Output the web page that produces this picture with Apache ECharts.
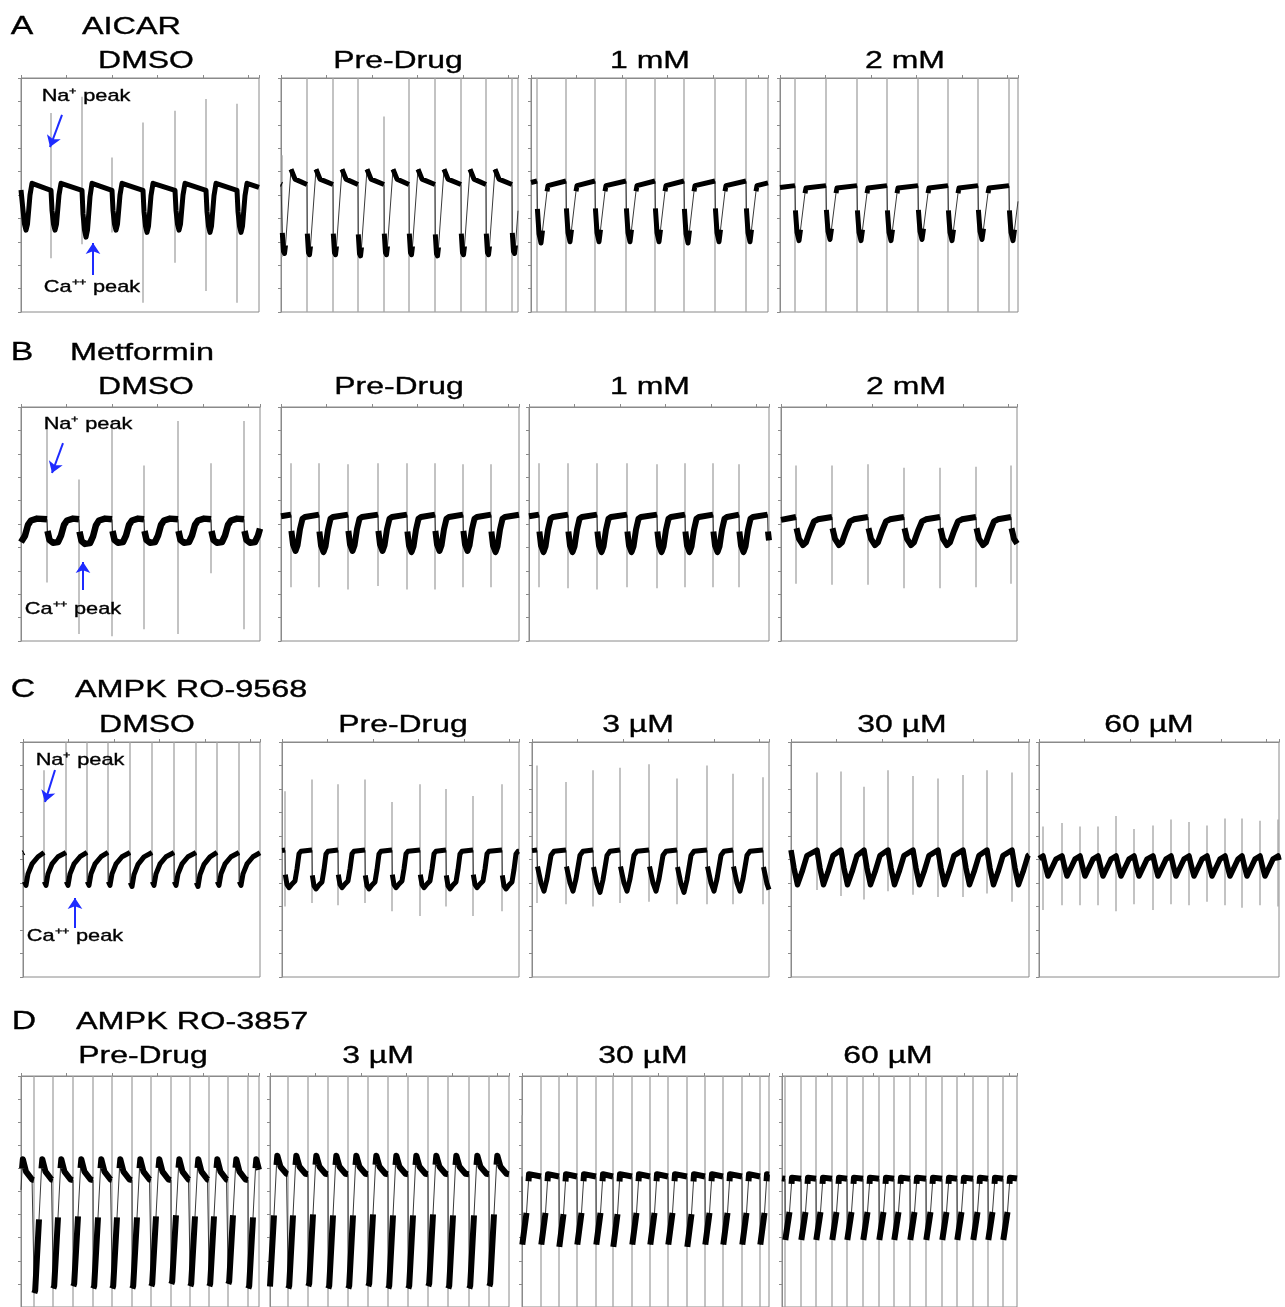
<!DOCTYPE html>
<html><head><meta charset="utf-8">
<script src="https://cdn.jsdelivr.net/npm/echarts/dist/echarts.min.js"></script>
<style>html,body{margin:0;padding:0;background:#fff}#c{width:1285px;height:1307px}</style>
</head><body><div id="c"></div>
<script>
// ================= DATA =================
// x = time in axis units, y = signal (0..10 axis divisions)
const rowLetters = ['A', 'B', 'C', 'D'];
const rowNames = ['AICAR', 'Metformin', 'AMPK RO-9568', 'AMPK RO-3857'];
const aTitles = ['DMSO', 'Pre-Drug', '1 mM', '2 mM'];
const bTitles = ['DMSO', 'Pre-Drug', '1 mM', '2 mM'];
const cTitles = ['DMSO', 'Pre-Drug', '3 \u00b5M', '30 \u00b5M', '60 \u00b5M'];
const dTitles = ['Pre-Drug', '3 \u00b5M', '30 \u00b5M', '60 \u00b5M'];
const naLabel = 'Na\u207A peak';
const caLabel = 'Ca\u207A\u207A peak';

// ---- A: AICAR ----
const aDmsoBeat = [1, 30, 61, 91, 122, 154, 185, 216];
const aDmsoNaHi = [null, 8.5, 9.2, 6.6, 8.1, 8.6, 9.1, 8.9];
const aDmsoNaLo = [null, 2.3, 2.9, 3.4, 0.4, 2.1, 0.9, 0.4];
const aDmsoCa = [3.5, 3.5, 3.2, 3.5, 3.4, 3.5, 3.4, 3.4];
const aDmsoLevel = [5.5, 5.2];

const aPreBeat = [1, 26, 52, 77, 103, 128, 154, 180, 205, 231];
const aPreNaHi = [6.7, 10, 10, 10, 8.35, 10, 10, 10, 10, 10];
const aPreNaLo = [2.35, 0, 0, 0, 0, 0, 0, 0, 0, 0];
const aPreCa = [2.5, 2.45, 2.45, 2.4, 2.45, 2.45, 2.4, 2.45, 2.45, 2.5];
const aPreLevel = [6.1, 5.45];

const a1Beat = [6, 35, 64, 95, 124, 153, 184, 215];
const a1NaHi = [10, 10, 10, 10, 10, 10, 10, 10];
const a1NaLo = [0, 0, 0, 0, 0, 0, 0, 0];
const a1Ca = [2.95, 3.0, 3.0, 3.0, 3.0, 2.95, 3.0, 3.0];
const a1Level = [5.4, 5.6];

const a2Beat = [15, 46, 77, 107, 138, 168, 198, 229];
const a2NaHi = [10, 10, 10, 10, 10, 10, 10, 10];
const a2NaLo = [0, 0, 0, 0, 0, 0, 0, 0];
const a2Ca = [3.05, 3.1, 3.05, 3.05, 3.1, 3.05, 3.1, 3.05];
const a2Level = [5.3, 5.4];

// ---- B: Metformin ----
const bDmsoBeat = [-10, 26, 58, 91, 123, 157, 190, 223];
const bDmsoNaHi = [null, 9.4, 6.9, 9.4, 7.5, 9.4, 7.6, 9.4];
const bDmsoNaLo = [null, 2.5, 0.3, 0.2, 0.5, 0.3, 2.9, 0.5];
const bDmsoCa = [4.2, 4.2, 4.15, 4.2, 4.2, 4.2, 4.2, 4.2];
const bDmsoLevel = [5.15, 5.2];

const bPreBeat = [10, 38, 67, 97, 126, 154, 182, 210];
const bPreNaHi = [7.6, 7.6, 7.55, 7.6, 7.6, 7.6, 7.55, 7.55];
const bPreNaLo = [2.3, 2.3, 2.2, 2.35, 2.2, 2.2, 2.3, 2.3];
const bPreCa = [3.85, 3.8, 3.85, 3.85, 3.8, 3.85, 3.85, 3.8];
const bPreLevel = [5.3, 5.4];

const b1Beat = [10, 39, 68, 98, 128, 156, 184, 210];
const b1NaHi = [7.6, 7.6, 7.6, 7.6, 7.55, 7.6, 7.6, 7.55];
const b1NaLo = [2.3, 2.25, 2.2, 2.3, 2.25, 2.3, 2.3, 2.3];
const b1Ca = [3.8, 3.8, 3.8, 3.8, 3.8, 3.8, 3.8, 3.8];
const b1Level = [5.3, 5.4];

const b2Beat = [15, 51, 87, 123, 159, 195, 230];
const b2NaHi = [7.5, 7.5, 7.55, 7.4, 7.4, 7.45, 7.5];
const b2NaLo = [2.45, 2.4, 2.4, 2.25, 2.25, 2.3, 2.45];
const b2Ca = [4.1, 4.1, 4.1, 4.1, 4.1, 4.1, 4.1];
const b2Level = [5.2, 5.3];

// ---- C: AMPK RO-9568 ----
const cDmsoBeat = [1, 21, 43, 64, 85, 107, 129, 151, 173, 194, 216];
const cDmsoNaHi = [null, 8.8, 10, 10, 10, 10, 10, 10, 10, 10, 10];
const cDmsoNaLo = [null, 4.0, 3.95, 4.0, 4.0, 3.95, 4.0, 4.0, 3.95, 4.0, 4.0];
const cDmsoCa = [3.9, 3.9, 3.9, 3.9, 3.9, 3.85, 3.9, 3.9, 3.85, 3.9, 3.9];
const cDmsoLevel = [5.3, 5.3];

const cPreBeat = [3, 30, 56, 83, 110, 138, 164, 191, 220];
const cPreNaHi = [7.9, 8.4, 8.2, 8.4, 7.45, 8.2, 8.0, 7.7, 8.2];
const cPreNaLo = [3.0, 3.15, 3.05, 3.15, 2.8, 2.6, 3.0, 2.6, 2.8];
const cPreCa = [3.8, 3.75, 3.8, 3.75, 3.8, 3.8, 3.75, 3.8, 3.75];
const cPreLevel = [5.35, 5.4];

const c3Beat = [5, 34, 61, 88, 117, 145, 175, 201, 231];
const c3NaHi = [9.0, 8.3, 8.8, 8.9, 9.05, 8.45, 9.0, 8.65, 8.5];
const c3NaLo = [3.15, 3.1, 3.0, 3.15, 3.2, 3.1, 3.1, 3.1, 3.1];
const c3Ca = [3.65, 3.65, 3.6, 3.65, 3.65, 3.6, 3.65, 3.65, 3.6];
const c3Level = [5.35, 5.4];

const c30Beat = [0, 26, 50, 73, 97, 122, 147, 172, 196, 221];
const c30NaHi = [null, 8.7, 8.75, 8.1, 8.8, 8.55, 8.45, 8.6, 8.8, 8.7];
const c30NaLo = [null, 3.7, 3.45, 3.3, 3.65, 3.5, 3.4, 3.4, 3.55, 3.2];
const c30Ca = [3.85, 3.85, 3.85, 3.85, 3.85, 3.85, 3.85, 3.85, 3.85, 3.85];
const c30Level = [5.4, 5.4];

const c60Beat = [4, 23, 41, 59, 77, 95, 114, 132, 150, 168, 186, 203, 221, 239];
const c60NaHi = [6.4, 6.55, 6.4, 6.4, 6.85, 6.3, 6.45, 6.7, 6.6, 6.45, 6.75, 6.75, 6.65, 6.7];
const c60NaLo = [2.85, 3.05, 3.05, 3.05, 2.8, 3.1, 2.85, 3.1, 3.05, 3.2, 3.05, 2.95, 3.05, 3.0];
const c60Ca = [4.25, 4.25, 4.25, 4.25, 4.25, 4.25, 4.25, 4.25, 4.25, 4.25, 4.25, 4.25, 4.25, 4.25];
const c60Level = [5.15, 5.15];

// ---- D: AMPK RO-3857 ----
const dPreBeat = [13, 32, 52, 72, 91, 111, 130, 150, 169, 188, 207, 227];
const dPreNaHi = [10, 10, 10, 10, 10, 10, 10, 10, 10, 10, 10, 10];
const dPreNaLo = [0, 0, 0, 0, 0, 0, 0, 0, 0, 0, 0, 0];
const dPreCa = [0.6, 0.8, 0.9, 0.8, 0.8, 0.8, 0.9, 1.0, 0.9, 0.9, 1.0, 0.8];
const dPreLevel = [6.4, 5.5];

const d3Beat = [-1, 18, 38, 58, 78, 98, 118, 138, 158, 178, 199, 219];
const d3NaHi = [null, 10, 10, 10, 10, 10, 10, 10, 10, 10, 10, 10];
const d3NaLo = [null, 0, 0, 0, 0, 0, 0, 0, 0, 0, 0, 0];
const d3Ca = [0.8, 0.8, 0.9, 0.8, 0.8, 0.9, 0.8, 0.8, 0.9, 0.8, 0.8, 0.9];
const d3Level = [6.55, 5.75];

const d30Beat = [0, 19, 37, 55, 74, 91, 110, 128, 146, 165, 183, 201, 220, 238];
const d30NaHi = [8.3, 10, 10, 10, 10, 10, 10, 10, 10, 10, 10, 10, 10, 10];
const d30NaLo = [3.0, 0, 0, 0, 0, 0, 0, 0, 0, 0, 0, 0, 0, 0];
const d30Ca = [2.7, 2.7, 2.6, 2.7, 2.7, 2.6, 2.7, 2.7, 2.7, 2.6, 2.7, 2.7, 2.7, 2.7];
const d30Level = [5.75, 5.65];

const d60Beat = [3, 19, 34, 50, 65, 81, 97, 112, 128, 144, 160, 175, 191, 206, 221];
const d60NaHi = [10, 10, 10, 10, 10, 10, 10, 10, 10, 10, 10, 10, 10, 10, 10];
const d60NaLo = [0, 0, 0, 0, 0, 0, 0, 0, 0, 0, 0, 0, 0, 0, 0];
const d60Ca = [2.9, 2.9, 2.9, 2.9, 2.9, 2.9, 2.9, 2.9, 2.9, 2.9, 2.9, 2.9, 2.9, 2.9, 2.9];
const d60Level = [5.6, 5.55];

// ================= WAVEFORM SHAPES (style: per-beat template) =================
// [dt, mode, f, thickSegment]; mode CE: C+f*(Pe-C), CS: C+f*(Ps-C), SE: Pe+f*(Ps-Pe), SA: Ps+f
const TPL = {
  aDmso: [[0,'CE',1,1],[1,'CE',0.5,1],[2.5,'CE',0.15,1],[4,'CE',0,1],[5.5,'CE',0.15,1],[8,'CS',0.75,1],[10,'CS',1,1]],
  aPre:  [[0,'CE',1,1],[0.3,'CE',0.3,0],[1.5,'CE',0.03,1],[2.5,'CE',0,1],[3.5,'CE',0.12,1],[9,'CS',1,0],[13,'SE',0.35,1]],
  aDrug: [[0,'CE',1,1],[0.4,'CE',0.55,0],[2,'CE',0.15,1],[4,'CE',0,1],[5.5,'CE',0.2,1],[10,'CS',0.9,0],[11,'CS',1,1]],
  bDmso: [[0,'CE',1,1],[0.5,'CE',0.5,0],[2.5,'CE',0.12,1],[6,'CE',0,1],[11,'CE',0.03,1],[14,'CE',0.3,1],[17,'CS',0.8,1],[20,'CS',1,1],[26,'SA',0.08,1]],
  bMid:  [[0,'CE',1,1],[0.4,'CE',0.55,0],[2,'CE',0.18,1],[4.5,'CE',0,1],[6.5,'CE',0.15,1],[9,'CE',0.6,1],[11.5,'CS',0.95,1],[14,'CS',1,1]],
  b2:    [[0,'CE',1,1],[0.5,'CE',0.6,0],[3,'CE',0.22,1],[7,'CE',0,1],[10,'CE',0.1,1],[14,'CE',0.5,1],[18,'CS',0.92,1],[22,'CS',1,1]],
  cDmso: [[0,'CE',1,1],[0.3,'CE',0.12,0],[2,'CE',0,1],[4,'CE',0.35,1],[8,'CE',0.65,1],[14,'CE',0.87,1]],
  cPre:  [[0,'CE',1,1],[0.3,'CE',0.35,0],[2,'CE',0.08,1],[4,'CE',0,1],[7,'CE',0.1,1],[10,'CE',0.18,1],[12,'CE',0.5,1],[14,'CS',0.93,1],[16,'CS',1,1]],
  c3:    [[0,'CE',1,1],[0.5,'CE',0.6,0],[4,'CE',0.2,1],[7,'CE',0,1],[10,'CE',0.3,1],[14,'CS',0.9,1],[17,'CS',1,1]],
  c30:   [[0,'CE',1,1],[3,'CE',0.5,1],[6.5,'CE',0.05,1],[8,'CE',0,1],[11,'CE',0.4,1],[16,'CE',0.85,1]],
  c60:   [[0,'CE',1,1],[2.5,'CE',0.5,1],[5,'CE',0.05,1],[6,'CE',0,1],[9,'CE',0.45,1],[13,'CE',0.85,1]],
  dPre:  [[0,'CE',1,1],[0.3,'CE',0,0],[1.2,'CS',0.02,1],[5,'CS',0.55,1],[7.5,'CS',0.93,0],[8.3,'CS',1,1],[11.5,'SE',0.4,1],[17.5,'SE',0.02,1]],
  dFlat: [[0,'CE',1,1],[0.3,'CE',0,0],[1,'CS',0.02,1],[4.5,'CS',0.45,1],[6.5,'CS',0.9,0],[7,'CS',1,1]]
};

// ================= LAYOUT =================
const FONT = '"Liberation Sans", Arial, Helvetica, sans-serif';
const panels = [
  {beat:aDmsoBeat, hi:aDmsoNaHi, lo:aDmsoNaLo, ca:aDmsoCa, lv:aDmsoLevel, tpl:'aDmso', box:[21,78,238,234], lw:5, title:aTitles[0], tx:146, ty:61,
   arrows:[[41,8.42,29,7.05],[72,1.58,72,2.95]], notes:[[naLabel,86,96],[caLabel,92,287]]},
  {beat:aPreBeat, hi:aPreNaHi, lo:aPreNaLo, ca:aPreCa, lv:aPreLevel, tpl:'aPre', box:[281,78,237,234], lw:5, title:aTitles[1], tx:398, ty:61},
  {beat:a1Beat, hi:a1NaHi, lo:a1NaLo, ca:a1Ca, lv:a1Level, tpl:'aDrug', box:[531,78,237,234], lw:5, title:aTitles[2], tx:650, ty:61},
  {beat:a2Beat, hi:a2NaHi, lo:a2NaLo, ca:a2Ca, lv:a2Level, tpl:'aDrug', box:[780,78,238,234], lw:5, title:aTitles[3], tx:905, ty:61},

  {beat:bDmsoBeat, hi:bDmsoNaHi, lo:bDmsoNaLo, ca:bDmsoCa, lv:bDmsoLevel, tpl:'bDmso', box:[21,407,239,234], lw:6.5, title:bTitles[0], tx:146, ty:387,
   arrows:[[42,8.46,31,7.18],[62,2.18,62,3.38]], notes:[[naLabel,88,424],[caLabel,73,609]]},
  {beat:bPreBeat, hi:bPreNaHi, lo:bPreNaLo, ca:bPreCa, lv:bPreLevel, tpl:'bMid', box:[281,407,238,234], lw:6, title:bTitles[1], tx:399, ty:387},
  {beat:b1Beat, hi:b1NaHi, lo:b1NaLo, ca:b1Ca, lv:b1Level, tpl:'bMid', box:[529,407,240,234], lw:6, title:bTitles[2], tx:650, ty:387},
  {beat:b2Beat, hi:b2NaHi, lo:b2NaLo, ca:b2Ca, lv:b2Level, tpl:'b2', box:[781,407,236,234], lw:6, title:bTitles[3], tx:906, ty:387},

  {beat:cDmsoBeat, hi:cDmsoNaHi, lo:cDmsoNaLo, ca:cDmsoCa, lv:cDmsoLevel, tpl:'cDmso', box:[23,742,237,235], lw:5, title:cTitles[0], tx:147, ty:725,
   arrows:[[32,8.81,22,7.45],[52,2.09,52,3.36]], notes:[[naLabel,80,760],[caLabel,75,936]]},
  {beat:cPreBeat, hi:cPreNaHi, lo:cPreNaLo, ca:cPreCa, lv:cPreLevel, tpl:'cPre', box:[282,742,237,235], lw:5, title:cTitles[1], tx:403, ty:725},
  {beat:c3Beat, hi:c3NaHi, lo:c3NaLo, ca:c3Ca, lv:c3Level, tpl:'c3', box:[532,742,237,235], lw:5, title:cTitles[2], tx:638, ty:725},
  {beat:c30Beat, hi:c30NaHi, lo:c30NaLo, ca:c30Ca, lv:c30Level, tpl:'c30', box:[791,742,238,235], lw:5.5, title:cTitles[3], tx:902, ty:725},
  {beat:c60Beat, hi:c60NaHi, lo:c60NaLo, ca:c60Ca, lv:c60Level, tpl:'c60', box:[1039,742,240,235], lw:5.5, title:cTitles[4], tx:1149, ty:725},

  {beat:dPreBeat, hi:dPreNaHi, lo:dPreNaLo, ca:dPreCa, lv:dPreLevel, tpl:'dPre', box:[21,1076,238,234], lw:6, title:dTitles[0], tx:143, ty:1056},
  {beat:d3Beat, hi:d3NaHi, lo:d3NaLo, ca:d3Ca, lv:d3Level, tpl:'dPre', box:[270,1076,239,234], lw:6, title:dTitles[1], tx:378, ty:1056},
  {beat:d30Beat, hi:d30NaHi, lo:d30NaLo, ca:d30Ca, lv:d30Level, tpl:'dFlat', box:[522,1076,247,234], lw:6, title:dTitles[2], tx:643, ty:1056},
  {beat:d60Beat, hi:d60NaHi, lo:d60NaLo, ca:d60Ca, lv:d60Level, tpl:'dFlat', box:[782,1076,235,234], lw:6, title:dTitles[3], tx:888, ty:1056}
];
const rowHeads = [
  {letter:rowLetters[0], lx:22, name:rowNames[0], nx:82, y:27},
  {letter:rowLetters[1], lx:22, name:rowNames[1], nx:70, y:353},
  {letter:rowLetters[2], lx:23, name:rowNames[2], nx:75, y:690},
  {letter:rowLetters[3], lx:24, name:rowNames[3], nx:76, y:1022}
];

// ================= BUILD =================
function levelOf(mode, f, C, ps, pe) {
  if (mode === 'CE') return C + f * (pe - C);
  if (mode === 'CS') return C + f * (ps - C);
  if (mode === 'SE') return pe + f * (ps - pe);
  return ps + f;
}
// clip a polyline (with '-' gaps) to x in [x0, x1], interpolating at the edges
function clipX(pts, x0, x1) {
  const out = [];
  const gap = () => { if (out.length && out[out.length - 1][1] !== '-') out.push([x0, '-']); };
  for (let i = 0; i < pts.length; i++) {
    const p = pts[i];
    if (p[1] === '-') { gap(); continue; }
    const q = i > 0 ? pts[i - 1] : null;
    const inside = p[0] >= x0 && p[0] <= x1;
    if (q && q[1] !== '-') {
      const qin = q[0] >= x0 && q[0] <= x1;
      if (!qin && inside) {
        const xe = q[0] < x0 ? x0 : x1;
        out.push([xe, +(q[1] + (p[1] - q[1]) * (xe - q[0]) / (p[0] - q[0])).toFixed(3)]);
      } else if (qin && !inside) {
        const xe = p[0] > x1 ? x1 : x0;
        out.push([xe, +(q[1] + (p[1] - q[1]) * (xe - q[0]) / (p[0] - q[0])).toFixed(3)]);
        gap();
      }
    }
    if (inside) out.push(p);
  }
  return out;
}
function buildTrace(p, w) {
  const n = p.beat.length;
  const P = (p.beat[n - 1] - p.beat[0]) / (n - 1);
  const bs = [p.beat[0] - P].concat(p.beat, [p.beat[n - 1] + P]);
  const cs = [p.ca[0]].concat(p.ca, [p.ca[n - 1]]);
  const ps = p.lv[0], pe = p.lv[1];
  const pts = [], fl = [];
  const tpl = TPL[p.tpl];
  bs.forEach((t0, k) => {
    tpl.forEach(e => {
      pts.push([+(t0 + e[0]).toFixed(2), +levelOf(e[1], e[2], cs[k], ps, pe).toFixed(3)]);
      fl.push(e[3]);
    });
  });
  const thick = [];
  let last = -1;
  for (let i = 1; i < pts.length; i++) {
    if (fl[i]) {
      if (last !== i - 1) thick.push(pts[i - 1]);
      thick.push(pts[i]);
      last = i;
    } else if (thick.length && thick[thick.length - 1][1] !== '-') {
      thick.push([pts[i][0], '-']);
    }
  }
  return {thin: clipX(pts, 0, w), thick: clipX(thick, 0, w)};
}
function buildSpikes(p, w) {
  const d = [];
  p.beat.forEach((x, i) => {
    if (p.hi[i] == null || x < 0 || x > w) return;
    d.push([x, p.hi[i]], [x, p.lo[i]], [x, '-']);
  });
  return d;
}

const AX = '#8a8a8a';
const grid = [], xAxis = [], yAxis = [], series = [], graphic = [];
const txt = (text, x, y, size, sx, align) => ({type: 'text', x: x, y: y, scaleX: sx, z: 100, silent: true,
  style: {text: text, fontSize: size, fontFamily: FONT, fill: '#000', stroke: '#000', lineWidth: 0.35,
    textAlign: align, align: align, textVerticalAlign: 'middle', verticalAlign: 'middle'}});
panels.forEach((p, i) => {
  const [l, t, w, h] = p.box;
  grid.push({left: l, top: t, width: w, height: h, show: true, borderColor: AX, borderWidth: 1, backgroundColor: 'rgba(0,0,0,0)'});
  xAxis.push({type: 'value', gridIndex: i, min: 0, max: w, interval: 45.5, position: 'top',
    axisLine: {show: true, onZero: false, lineStyle: {color: AX, width: 1}},
    axisTick: {show: true, inside: false, length: 3, lineStyle: {color: AX}},
    axisLabel: {show: false}, splitLine: {show: false}});
  yAxis.push({type: 'value', gridIndex: i, min: 0, max: 10, interval: 1,
    axisLine: {show: true, onZero: false, lineStyle: {color: AX, width: 1}},
    axisTick: {show: true, inside: false, length: 3, lineStyle: {color: AX}},
    axisLabel: {show: false}, splitLine: {show: false}});
  const tr = buildTrace(p, w);
  series.push({type: 'line', xAxisIndex: i, yAxisIndex: i, data: buildSpikes(p, w), symbol: 'none', silent: true,
    connectNulls: false, clip: true, z: 1, lineStyle: {color: '#a3a3a3', width: 1.3}});
  const thin = {type: 'line', xAxisIndex: i, yAxisIndex: i, data: tr.thin, symbol: 'none', silent: true,
    connectNulls: false, clip: true, z: 2, lineStyle: {color: '#3a3a3a', width: 1}};
  if (p.arrows) {
    thin.markLine = {silent: true, symbol: ['none', 'arrow'], symbolSize: 11, precision: 3, z: 5,
      lineStyle: {color: '#1e2bff', width: 2, type: 'solid'}, label: {show: false},
      data: p.arrows.map(a => [{coord: [a[0], a[1]]}, {coord: [a[2], a[3]]}])};
  }
  series.push(thin);
  series.push({type: 'line', xAxisIndex: i, yAxisIndex: i, data: tr.thick, symbol: 'none', silent: true,
    connectNulls: false, clip: true, z: 3, lineStyle: {color: '#000', width: p.lw, join: 'round', cap: 'butt'}});
  graphic.push(txt(p.title, p.tx, p.ty, 24, 1.33, 'center'));
  (p.notes || []).forEach(nt => graphic.push(txt(nt[0], nt[1], nt[2], 17, 1.28, 'center')));
});
rowHeads.forEach(r => {
  graphic.push(txt(r.letter, r.lx, r.y, 26, 1.3, 'center'));
  graphic.push(txt(r.name, r.nx, r.y, 24, 1.35, 'left'));
});

const chart = echarts.init(document.getElementById('c'), null, {renderer: 'canvas'});
chart.setOption({animation: false, backgroundColor: '#fff', grid, xAxis, yAxis, series, graphic});
</script></body></html>
